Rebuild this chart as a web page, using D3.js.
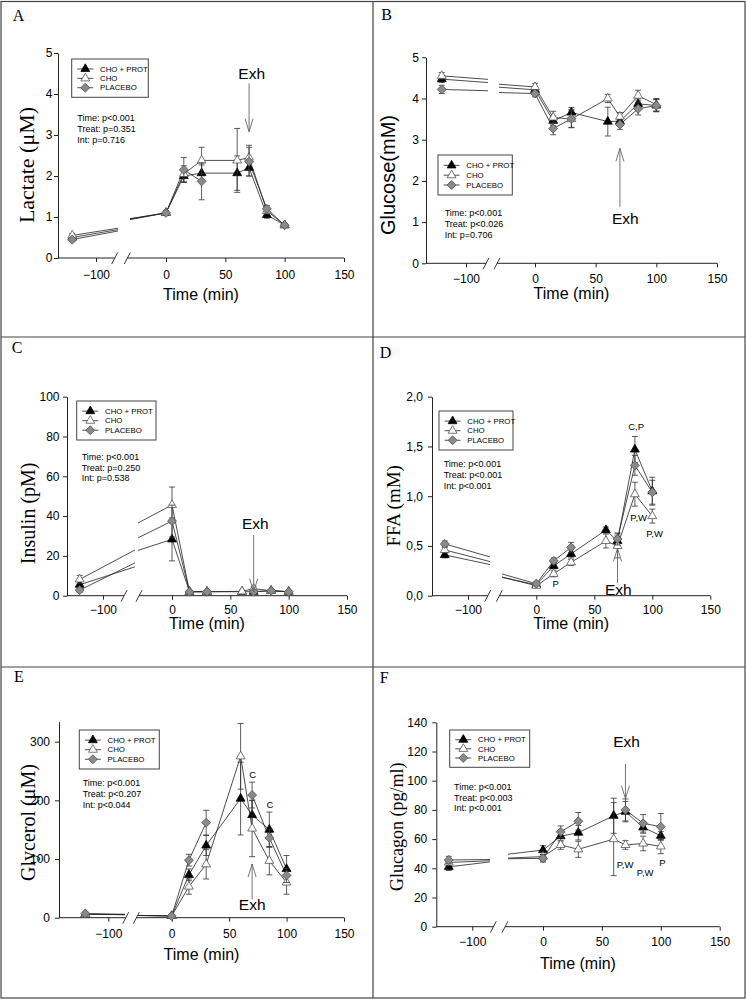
<!DOCTYPE html>
<html>
<head>
<meta charset="utf-8">
<script src="https://cdn.jsdelivr.net/npm/d3@7"></script>
<style>
body { margin: 0; background: #fff; }
svg { display: block; }
</style>
</head>
<body>
<svg id="fig" width="747" height="1000"></svg>
<script>
// sampling times (min), -120 sits on the left side of the broken axis
var times = [-120, 0, 15, 30, 60, 70, 85, 100];
var groupNames = ["CHO + PROT", "CHO", "PLACEBO"];

// A - lactate
var lacProt = [0.50, 1.10, 2.00, 2.07, 2.07, 2.20, 1.05, 0.80];
var lacProtErr = [0.05, 0.05, 0.15, 0.20, 0.42, 0.20, 0.08, 0.03];
var lacCho = [0.55, 1.10, 2.05, 2.38, 2.38, 2.45, 1.15, 0.80];
var lacChoErr = [0.05, 0.05, 0.20, 0.32, 0.78, 0.30, 0.08, 0.03];
var lacPla = [0.45, 1.10, 2.15, 1.87, null, 2.35, 1.20, 0.80];
var lacPlaErr = [0.05, 0.05, 0.30, 0.45, null, 0.35, 0.08, 0.03];

// B - glucose
var gluProt = [4.47, 4.21, 3.46, 3.66, 3.44, 3.45, 3.87, 3.83];
var gluProtErr = [0.08, 0.08, 0.12, 0.12, 0.35, 0.10, 0.12, 0.15];
var gluCho = [4.55, 4.28, 3.54, 3.50, 4.00, 3.56, 4.07, 3.85];
var gluChoErr = [0.08, 0.08, 0.15, 0.20, 0.10, 0.10, 0.13, 0.15];
var gluPla = [4.22, 4.12, 3.27, 3.51, null, 3.37, 3.75, 3.83];
var gluPlaErr = [0.10, 0.08, 0.15, 0.22, null, 0.12, 0.15, 0.15];

// C - insulin
var insProt = [5.5, 28.3, 2, 2, 2, 2, 2.5, 2];
var insProtErr = [2, 10.8, 0.5, 0.5, 0.5, 0.5, 0.5, 0.5];
var insCho = [8.2, 45.6, 2, 2, 2.2, 3.5, 2.5, 2];
var insChoErr = [2, 9, 0.5, 0.5, 0.5, 1, 0.5, 0.5];
var insPla = [2.8, 37.5, 2, 2, null, 2, 2.5, 2];
var insPlaErr = [1, 8, 0.5, 0.5, null, 0.5, 0.5, 0.5];

// D - FFA
var ffaProt = [0.41, 0.11, 0.30, 0.42, 0.66, 0.55, 1.47, 1.05];
var ffaProtErr = [0.03, 0.02, 0.03, 0.04, 0.03, 0.05, 0.13, 0.14];
var ffaCho = [0.46, 0.10, 0.22, 0.335, 0.55, 0.50, 1.02, 0.80];
var ffaChoErr = [0.03, 0.02, 0.03, 0.03, 0.07, 0.12, 0.12, 0.07];
var ffaPla = [0.52, 0.12, 0.35, 0.486, null, 0.57, 1.31, 1.04];
var ffaPlaErr = [0.03, 0.02, 0.03, 0.05, null, 0.06, 0.10, 0.12];

// E - glycerol
var glyProt = [6, 3, 73, 123, 203, 175, 150, 83];
var glyProtErr = [2, 2, 10, 17, 62, 25, 30, 23];
var glyCho = [6, 3, 53, 91, 275, 152, 97, 60];
var glyChoErr = [2, 2, 13, 25, 56, 48, 24, 20];
var glyPla = [7, 3, 98, 162, null, 209, 136, 72];
var glyPlaErr = [2, 2, 10, 21, null, 22, 15, 12];

// F - glucagon
var gcgProt = [41, 52.5, 62, 64.4, 76, 78.8, 68, 62.3];
var gcgProtErr = [2.5, 3, 4, 5, 12, 7, 4, 3];
var gcgCho = [44, 48, 56, 53, 60, 56, 57, 55];
var gcgChoErr = [2, 3, 3, 5.5, 25, 3, 5, 5];
var gcgPla = [45.7, 46.8, 65, 72.2, null, 80, 70.8, 68.5];
var gcgPlaErr = [2.5, 2.5, 4, 6, null, 7.5, 6, 9];

// stats text
var statsA = ["Time: p<0.001", "Treat: p=0.351", "Int: p=0.716"];
var statsB = ["Time: p<0.001", "Treat: p<0.026", "Int: p=0.706"];
var statsC = ["Time: p<0.001", "Treat: p=0.250", "Int: p=0.538"];
var statsD = ["Time: p<0.001", "Treat: p<0.001", "Int: p<0.001"];
var statsE = ["Time: p<0.001", "Treat: p<0.207", "Int: p<0.044"];
var statsF = ["Time: p<0.001", "Treat: p<0.003", "Int: p<0.001"];

// significance letters [text, time, value]
var notesD = [["C,P", 86, 1.70], ["P,W", 88.3, 0.788], ["P,W", 102, 0.627], ["P", 16.7, 0.125]];
var notesE = [["C", 70.5, 243], ["C", 85.6, 193]];
var notesF = [["P,W", 69.7, 42.3], ["P,W", 86.7, 36.8], ["P", 101.3, 43.6]];

var sans = "'Liberation Sans', Arial, sans-serif";
var serif = "'Liberation Serif', 'Times New Roman', serif";

// layout of each panel (pixels relative to the panel corner)
var panels = [
  {id: "A", ox: 1, oy: 1, ylab: "Lactate (\u03bcM)", labFont: serif, labSize: 22,
   yDom: [0, 5], yTicks: [0, 1, 2, 3, 4, 5], fmt: d3.format("d"),
   data: [lacProt, lacCho, lacPla], errs: [lacProtErr, lacChoErr, lacPlaErr],
   stats: statsA, notes: [], exh: {tt: 72.2, tv: 4.5, tail: 4.26, tip: 3.08},
   L: {ax: 57, xm100: 95, x0: 165, x150: 343, yTop: 52, yBot: 257, s1: 110.7, s2: 123.3, cl: 117, cr: 129,
       yPad: 1.5, xPad: 8, xlab: 36, labX: 25.7, labY: 164, pX: 11.7, pY: 19.7,
       lg: [70.7, 58, 76.6, 38.3], st: [76.3, 117.3]}},
  {id: "B", ox: 373, oy: 1, ylab: "Glucose(mM)", labFont: sans, labSize: 20,
   yDom: [0, 5], yTicks: [0, 1, 2, 3, 4, 5], fmt: d3.format("d"),
   data: [gluProt, gluCho, gluPla], errs: [gluProtErr, gluChoErr, gluPlaErr],
   stats: statsB, notes: [], exh: {tt: 74.4, tv: 1.08, tail: 1.37, tip: 2.79},
   L: {ax: 53, xm100: 93, x0: 162, x150: 344, yTop: 56.3, yBot: 262.3, s1: 110, s2: 121, cl: 115, cr: 126,
       yPad: 3, xPad: 6.8, xlab: 30, labX: 15, labY: 174, pX: 8.3, pY: 19,
       lg: [65, 154, 74.3, 40], st: [71.7, 212.3]}},
  {id: "C", ox: 1, oy: 337, ylab: "Insulin (pM)", labFont: serif, labSize: 20,
   yDom: [0, 100], yTicks: [0, 20, 40, 60, 80, 100], fmt: d3.format("d"),
   data: [insProt, insCho, insPla], errs: [insProtErr, insChoErr, insPlaErr],
   stats: statsC, notes: [], exh: {tt: 71.4, tv: 36.2, tail: 30.5, tip: 2},
   L: {ax: 66, xm100: 102, x0: 171, x150: 346, yTop: 59.7, yBot: 258.7, s1: 120, s2: 135, cl: 134, cr: 137,
       yPad: 3.5, xPad: 6.1, xlab: 28, labX: 26.7, labY: 176.3, pX: 10.7, pY: 16.3,
       lg: [75.7, 64, 79.3, 39], st: [80.7, 119.7]}},
  {id: "D", ox: 373, oy: 337, ylab: "FFA (mM)", labFont: serif, labSize: 19,
   yDom: [0, 2], yTicks: [0, 0.5, 1, 1.5, 2], fmt: function(d) { return d3.format(".1f")(d).replace(".", ","); },
   data: [ffaProt, ffaCho, ffaPla], errs: [ffaProtErr, ffaChoErr, ffaPlaErr],
   stats: statsD, notes: notesD, exh: {tt: 70.7, tv: 0.064, tail: 0.128, tip: 0.476},
   L: {ax: 59, xm100: 95, x0: 163.3, x150: 337.3, yTop: 59.7, yBot: 258.7, s1: 111.7, s2: 123.3, cl: 117, cr: 129,
       yPad: 5, xPad: 6.1, xlab: 28, labX: 20.7, labY: 168.8, pX: 6.7, pY: 21,
       lg: [66, 74, 74, 39], st: [70.7, 127.3]}},
  {id: "E", ox: 1, oy: 667, ylab: "Glycerol (\u03bcM)", labFont: serif, labSize: 20,
   yDom: [0, 334], yTicks: [0, 100, 200, 300], fmt: d3.format("d"),
   data: [glyProt, glyCho, glyPla], errs: [glyProtErr, glyChoErr, glyPlaErr],
   stats: statsE, notes: notesE, exh: {tt: 70.1, tv: 21.6, tail: 31.4, tip: 91.5},
   L: {ax: 58, xm100: 107.3, x0: 170.7, x150: 343, yTop: 54.7, yBot: 250.7, s1: 121.7, s2: 132.3, cl: 124, cr: 137,
       yPad: 5, xPad: 7.5, xlab: 37, labX: 26.7, labY: 155.5, pX: 13, pY: 15,
       lg: [78.3, 63, 80, 39], st: [81.7, 116.3]}},
  {id: "F", ox: 373, oy: 667, ylab: "Glucagon (pg/ml)", labFont: serif, labSize: 18,
   yDom: [0, 140], yTicks: [0, 20, 40, 60, 80, 100, 120, 140], fmt: d3.format("d"),
   data: [gcgProt, gcgCho, gcgPla], errs: [gcgProtErr, gcgChoErr, gcgPlaErr],
   stats: statsF, notes: notesF, exh: {tt: 70.9, tv: 126.5, tail: 111.6, tip: 87.7},
   L: {ax: 63.3, xm100: 99.3, x0: 170, x150: 346.7, yTop: 55.3, yBot: 259.7, s1: 117.3, s2: 129, cl: 117, cr: 135,
       yPad: 5, xPad: 6.8, xlab: 37, labX: 24, labY: 159.7, pX: 6.7, pY: 16,
       lg: [76.7, 63, 80, 37.3], st: [81, 119.7]}}
];

var styles = [
  {sym: d3.symbolTriangle, size: 34, rot: 0, fill: "#000", stroke: "#000"},
  {sym: d3.symbolTriangle, size: 34, rot: 0, fill: "#fff", stroke: "#555"},
  {sym: d3.symbolSquare, size: 40, rot: 45, fill: "#8a8a8a", stroke: "#555"}
];

var svg = d3.select("#fig");
var defs = svg.append("defs");

// frame of the figure
svg.append("rect").attr("x", 1).attr("y", 1.5).attr("width", 744).attr("height", 996.5)
  .attr("fill", "none").attr("stroke", "#444").attr("stroke-width", 1.2);
svg.append("line").attr("x1", 373).attr("x2", 373).attr("y1", 1.5).attr("y2", 998)
  .attr("stroke", "#444").attr("stroke-width", 1.2);
[337, 667].forEach(function(yy) {
  svg.append("line").attr("x1", 1).attr("x2", 745).attr("y1", yy).attr("y2", yy)
    .attr("stroke", "#444").attr("stroke-width", 1.2);
});

function marker(sel, st, x, y) {
  sel.append("path")
    .attr("d", d3.symbol().type(st.sym).size(st.size)())
    .attr("transform", "translate(" + x + "," + y + ") rotate(" + st.rot + ")")
    .attr("fill", st.fill).attr("stroke", st.stroke).attr("stroke-width", 0.8);
}

panels.forEach(function(p) {
  var L = p.L;
  var g = svg.append("g").attr("transform", "translate(" + p.ox + "," + p.oy + ")");
  var k = (L.x150 - L.x0) / 150;
  var xR = d3.scaleLinear().domain([0, 150]).range([L.x0, L.x150]);
  var xL = d3.scaleLinear().domain([-100, 0]).range([L.xm100, L.xm100 + 100 * k]);
  var y = d3.scaleLinear().domain(p.yDom).range([L.yBot, L.yTop]);
  function px(t) { return t < -50 ? xL(t) : xR(t); }

  // clip regions on each side of the axis break
  defs.append("clipPath").attr("id", "cl" + p.id).append("rect")
    .attr("x", L.ax).attr("y", 0).attr("width", L.cl - L.ax).attr("height", 330);
  defs.append("clipPath").attr("id", "cr" + p.id).append("rect")
    .attr("x", L.cr).attr("y", 0).attr("width", 372 - L.cr).attr("height", 330);

  // panel letter
  g.append("text").attr("x", L.pX).attr("y", L.pY).text(p.id)
    .attr("font-family", serif).attr("font-size", 16).attr("fill", "#000");

  // y axis
  var yg = g.append("g").attr("transform", "translate(" + L.ax + ",0)")
    .call(d3.axisLeft(y).tickValues(p.yTicks).tickFormat(p.fmt).tickSize(4).tickSizeOuter(0).tickPadding(L.yPad));
  yg.attr("font-size", 12).attr("font-family", sans);
  yg.selectAll("path,line").attr("stroke", "#222");

  // x axis, two pieces
  var xgR = g.append("g").attr("transform", "translate(0," + L.yBot + ")")
    .call(d3.axisBottom(xR).tickValues([0, 50, 100, 150]).tickSize(4).tickPadding(L.xPad));
  var xgL = g.append("g").attr("transform", "translate(0," + L.yBot + ")")
    .call(d3.axisBottom(xL).tickValues([-100]).tickSize(4).tickPadding(L.xPad));
  [xgR, xgL].forEach(function(a) {
    a.select(".domain").remove();
    a.attr("font-size", 12).attr("font-family", sans);
    a.selectAll("line").attr("stroke", "#222");
  });
  g.append("line").attr("x1", L.ax).attr("x2", L.s1 + 3).attr("y1", L.yBot).attr("y2", L.yBot)
    .attr("stroke", "#222");
  g.append("line").attr("x1", L.s2 + 3).attr("x2", L.x150).attr("y1", L.yBot).attr("y2", L.yBot)
    .attr("stroke", "#222");
  [L.s1, L.s2].forEach(function(s) {
    g.append("line").attr("x1", s).attr("y1", L.yBot + 6).attr("x2", s + 6).attr("y2", L.yBot - 5.5)
      .attr("stroke", "#222").attr("stroke-width", 0.9);
  });

  // axis titles
  g.append("text").attr("x", (L.ax + L.x150) / 2).attr("y", L.yBot + L.xlab).attr("dy", "0.35em")
    .attr("text-anchor", "middle").attr("font-family", sans).attr("font-size", 16).text("Time (min)");
  g.append("text").attr("transform", "translate(" + L.labX + "," + L.labY + ") rotate(-90)")
    .attr("dy", "0.35em").attr("text-anchor", "middle")
    .attr("font-family", p.labFont).attr("font-size", p.labSize).text(p.ylab);

  // lines
  var gl = g.append("g").attr("clip-path", "url(#cl" + p.id + ")");
  var gr = g.append("g").attr("clip-path", "url(#cr" + p.id + ")");
  p.data.forEach(function(vals) {
    for (var i = 0; i < times.length - 1; i++) {
      var a = vals[i], b = vals[i + 1];
      if (a == null || b == null) continue;
      if (times[i] < -50) {
        gl.append("line").attr("x1", xL(times[i])).attr("y1", y(a))
          .attr("x2", xL(times[i + 1])).attr("y2", y(b))
          .attr("stroke", "#222").attr("stroke-width", 0.8);
      }
      gr.append("line").attr("x1", xR(times[i])).attr("y1", y(a))
        .attr("x2", xR(times[i + 1])).attr("y2", y(b))
        .attr("stroke", "#222").attr("stroke-width", 0.8);
    }
  });

  // error bars and markers
  p.data.forEach(function(vals, si) {
    var errs = p.errs[si];
    vals.forEach(function(v, i) {
      if (v == null) return;
      var xx = px(times[i]), e = errs[i];
      var y1 = y(v - e), y2 = y(v + e);
      g.append("line").attr("x1", xx).attr("x2", xx).attr("y1", y1).attr("y2", y2)
        .attr("stroke", "#333").attr("stroke-width", 0.8);
      [y1, y2].forEach(function(yy) {
        g.append("line").attr("x1", xx - 3).attr("x2", xx + 3).attr("y1", yy).attr("y2", yy)
          .attr("stroke", "#333").attr("stroke-width", 0.8);
      });
    });
    vals.forEach(function(v, i) {
      if (v == null) return;
      marker(g, styles[si], px(times[i]), y(v));
    });
  });

  // legend
  var lg = g.append("g").attr("transform", "translate(" + L.lg[0] + "," + L.lg[1] + ")");
  lg.append("rect").attr("width", L.lg[2]).attr("height", L.lg[3])
    .attr("fill", "#fff").attr("stroke", "#444").attr("stroke-width", 1);
  groupNames.forEach(function(name, i) {
    var yy = L.lg[3] * (0.26 + i * 0.245);
    lg.append("line").attr("x1", 5.6).attr("x2", 21.6).attr("y1", yy).attr("y2", yy)
      .attr("stroke", "#222").attr("stroke-width", 0.8);
    marker(lg, styles[i], 13.6, yy);
    lg.append("text").attr("x", 28.3).attr("y", yy).attr("dy", "0.35em")
      .attr("font-family", sans).attr("font-size", 7.8).text(name);
  });

  // stats
  p.stats.forEach(function(s, i) {
    g.append("text").attr("x", L.st[0]).attr("y", L.st[1] + i * 10.7).attr("dy", "0.35em")
      .attr("font-family", sans).attr("font-size", 9).text(s);
  });

  // significance letters
  p.notes.forEach(function(n) {
    g.append("text").attr("x", xR(n[1])).attr("y", y(n[2])).attr("dy", "0.35em")
      .attr("text-anchor", "middle").attr("font-family", sans).attr("font-size", 9.5).text(n[0]);
  });

  // exhaustion arrow
  var ax = xR(70), yt = y(p.exh.tail), yp = y(p.exh.tip);
  var dir = yp > yt ? 1 : -1;
  g.append("line").attr("x1", ax).attr("x2", ax).attr("y1", yt).attr("y2", yp)
    .attr("stroke", "#666").attr("stroke-width", 0.9);
  g.append("path")
    .attr("d", "M" + (ax - 4) + "," + (yp - dir * 13) + "L" + ax + "," + yp + "L" + (ax + 4) + "," + (yp - dir * 13))
    .attr("fill", "none").attr("stroke", "#666").attr("stroke-width", 0.9);
  g.append("text").attr("x", xR(p.exh.tt)).attr("y", y(p.exh.tv)).attr("dy", "0.35em")
    .attr("text-anchor", "middle").attr("font-family", sans).attr("font-size", 15.5).text("Exh");
});
</script>
</body>
</html>
